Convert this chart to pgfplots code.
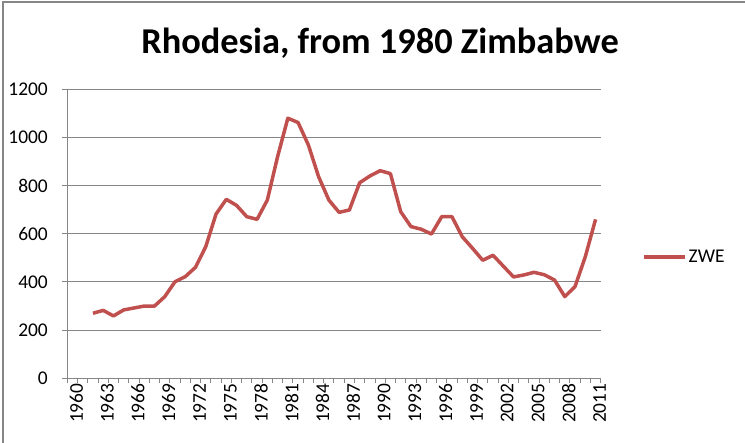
\documentclass[border=0pt]{standalone}
\usepackage{fontspec}
\setmainfont{Carlito}
\usepackage{pgfplots}
\pgfplotsset{compat=1.18}
\definecolor{zwe}{HTML}{C0504D}
\definecolor{gridgray}{HTML}{868686}

\pgfplotstableread{
year value
1962 270
1963 282
1964 259
1965 284
1966 292
1967 300
1968 300
1969 339
1970 401
1971 422
1972 461
1973 547
1974 682
1975 743
1976 718
1977 671
1978 660
1979 740
1980 920
1981 1080
1982 1062
1983 969
1984 837
1985 740
1986 689
1987 699
1988 812
1989 840
1990 862
1991 850
1992 692
1993 630
1994 619
1995 599
1996 671
1997 671
1998 588
1999 540
2000 490
2001 511
2002 466
2003 421
2004 429
2005 440
2006 430
2007 408
2008 339
2009 381
2010 505
2011 660
}\zwedata

\begin{document}
\begin{tikzpicture}
\useasboundingbox (0bp,0bp) rectangle (745bp,443bp);
% chart area border (only top and left visible in the screenshot)
\draw[gridgray, line width=1.2bp] (3bp,0bp) -- (3bp,441bp) -- (745bp,441bp);
\node[anchor=base, font=\fontsize{36.5}{42}\selectfont\bfseries] at (380bp,389.7bp) {Rhodesia, from 1980 Zimbabwe};
\begin{axis}[
    at={(67.3bp,64.7bp)}, anchor=south west,
    scale only axis,
    width=533.4bp, height=289bp,
    xmin=1959.5, xmax=2011.5,
    ymin=0, ymax=1200,
    axis x line=bottom, axis y line=left,
    axis line style={-, gridgray, line width=1bp},
    tick align=outside,
    xtick={1960,1963,...,2011},
    minor xtick={1959.5,1960.5,...,2011.5},
    major x tick style={draw=none},
    minor x tick style={gridgray, line width=1bp},
    minor tick length=5bp,
    ytick={0,200,...,1200},
    major y tick style={gridgray, line width=1bp},
    major tick length=5bp,
    ymajorgrids,
    grid style={gridgray, line width=1bp},
    /pgf/number format/assume math mode=true,
    /pgf/number format/1000 sep={},
    xticklabel style={rotate=90, anchor=east, inner sep=0pt, yshift=-4bp,
        font=\fontsize{19.5}{22}\selectfont},
    yticklabel style={anchor=east, inner sep=0pt, xshift=-14.3bp,
        font=\fontsize{19.5}{22}\selectfont},
    legend style={at={(1.0775,0.42)}, anchor=west, draw=none, inner sep=0pt,
        font=\fontsize{19.5}{22}\selectfont},
    legend image code/.code={\draw[#1] (0bp,0bp) -- (41bp,0bp);},
]
\addplot[zwe, line width=3.5bp, line join=round, no marks] table[x=year, y=value] {\zwedata};
\addlegendentry{ZWE}
\end{axis}
\end{tikzpicture}
\end{document}
